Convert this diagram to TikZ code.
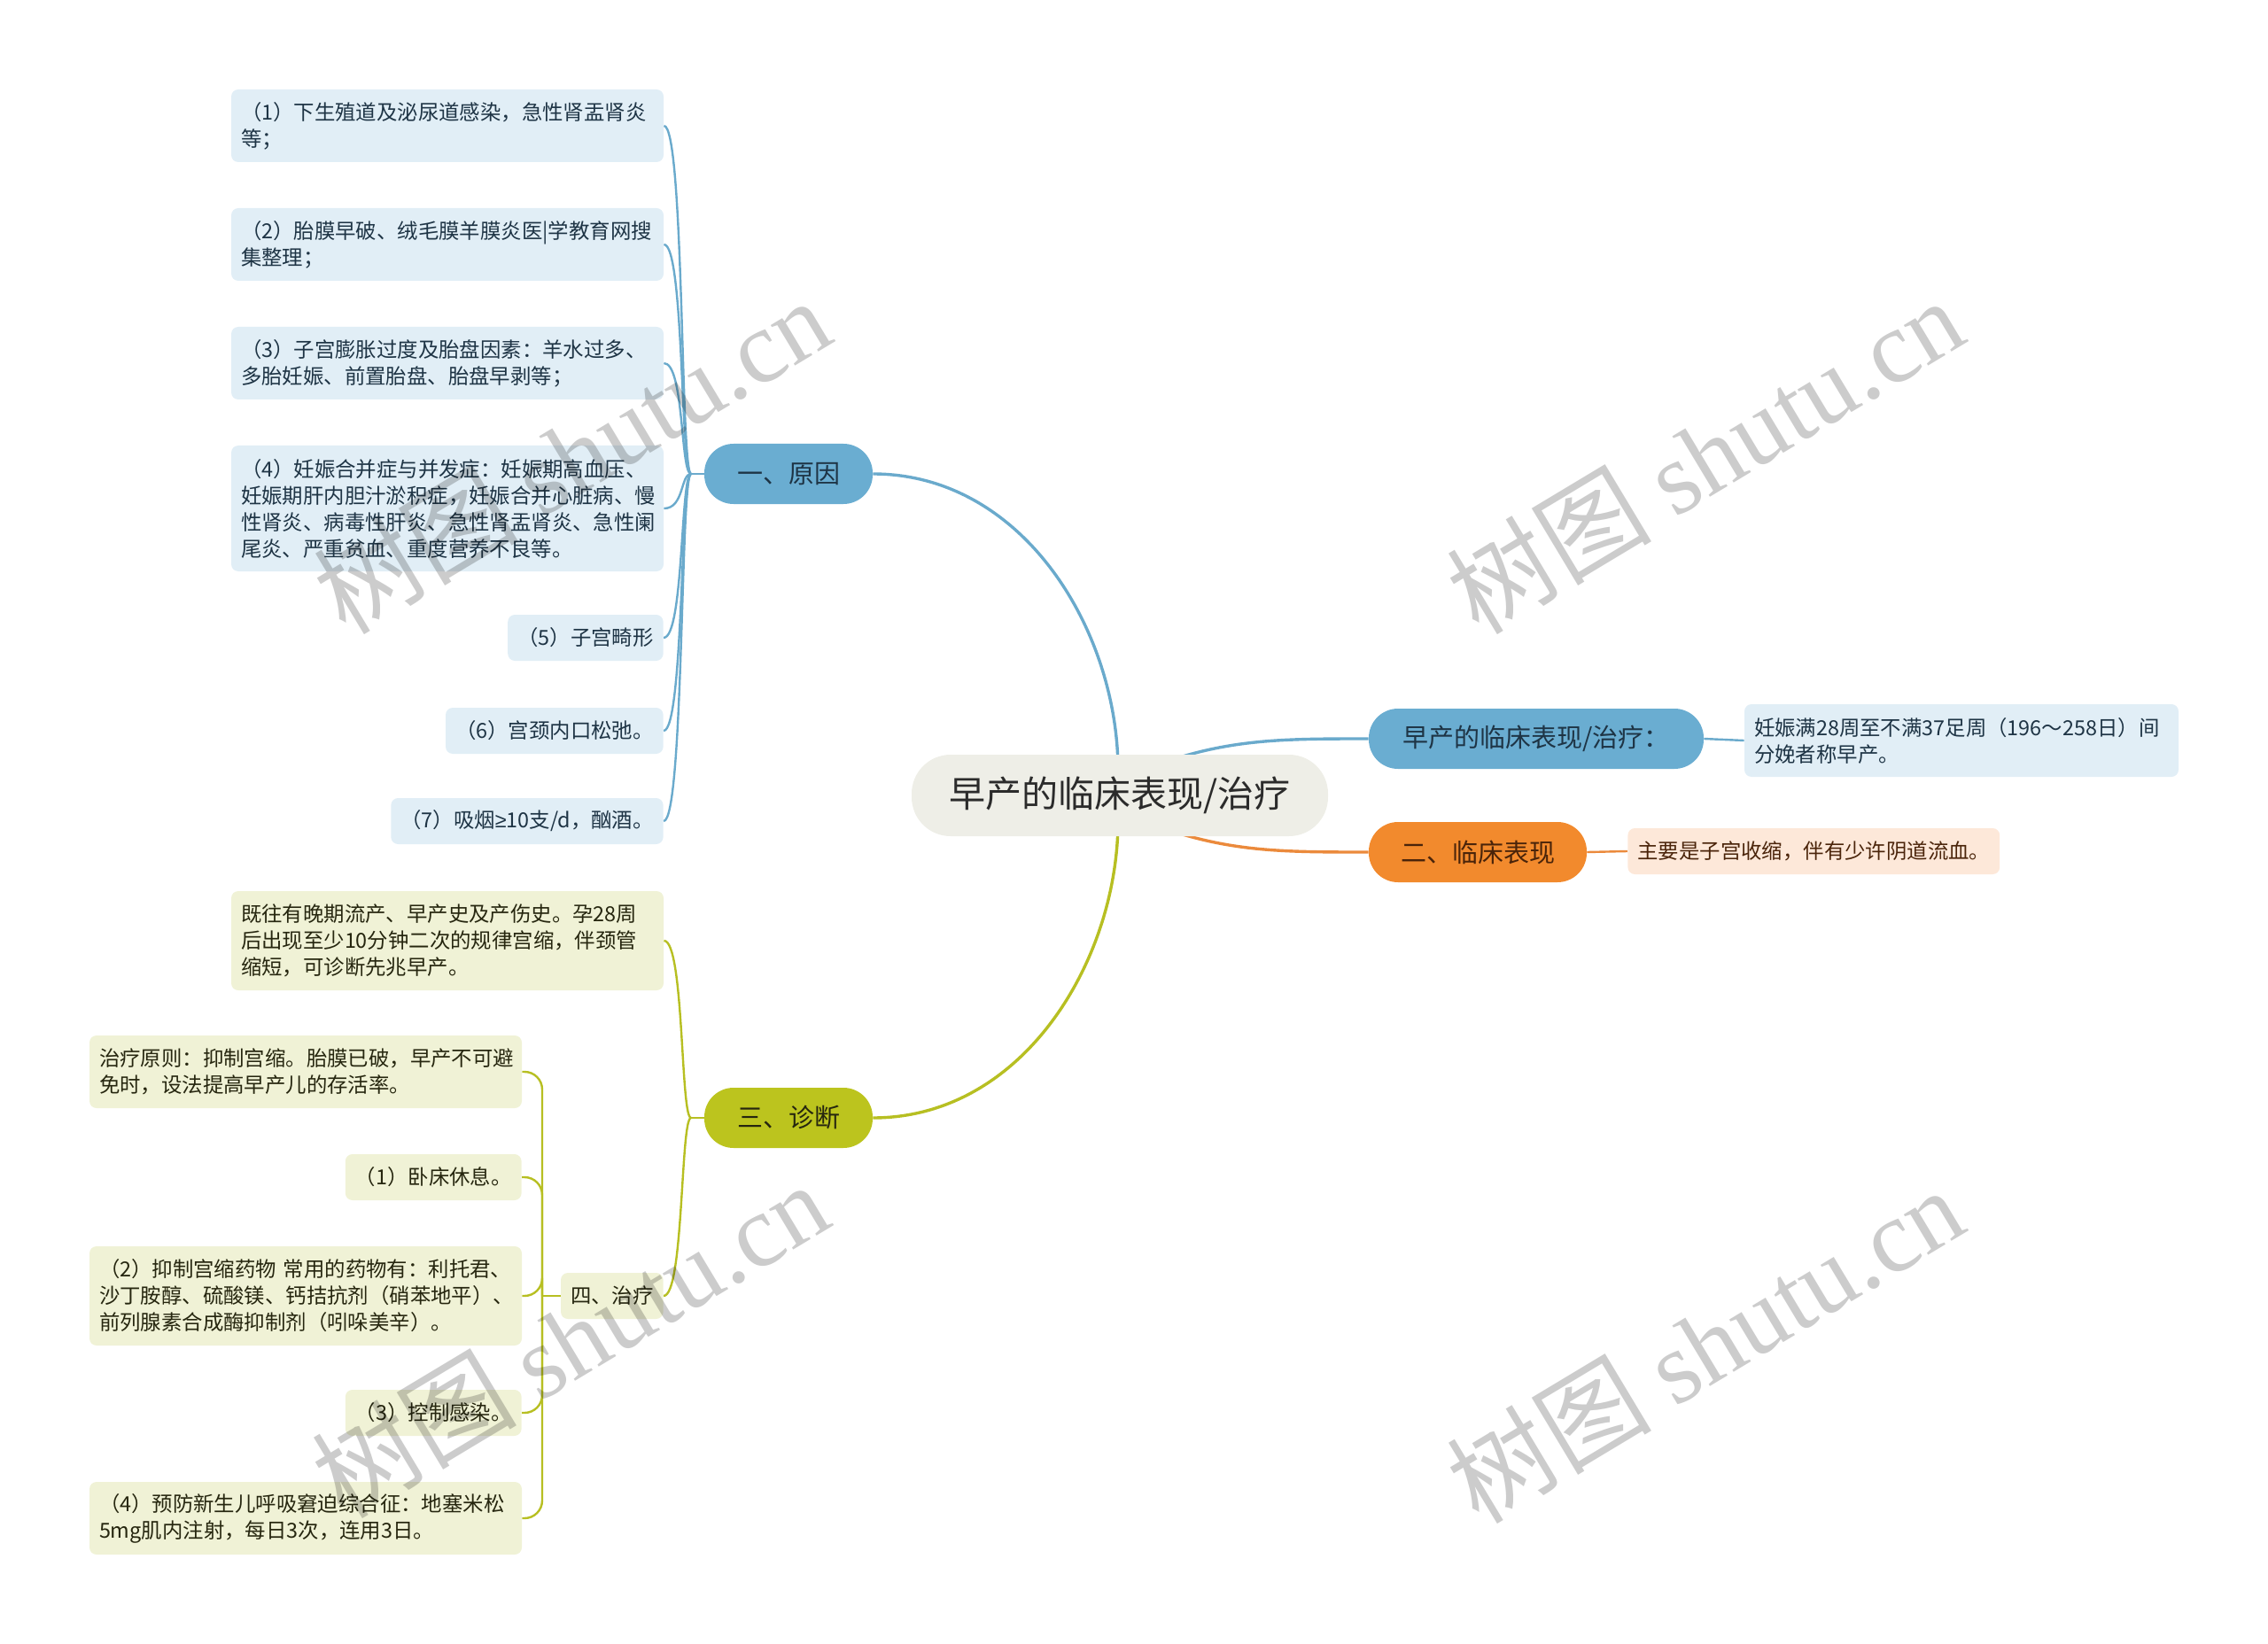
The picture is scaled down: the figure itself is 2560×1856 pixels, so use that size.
\documentclass[tikz,border=0pt]{standalone}
\usepackage{fontspec}
\setmainfont{Noto Sans CJK SC}
\newfontfamily\wmserif{Liberation Serif}
\newfontfamily\symfont{Liberation Sans}
\usetikzlibrary{backgrounds}
\definecolor{bluemain}{HTML}{6AADD1}
\definecolor{bluelf}{HTML}{E1EEF6}
\definecolor{bluetx}{HTML}{1E3445}
\definecolor{blueln}{HTML}{6AAACC}
\definecolor{orgmain}{HTML}{F28A2D}
\definecolor{orglf}{HTML}{FDE8D9}
\definecolor{orgtx}{HTML}{4A240A}
\definecolor{orgln}{HTML}{EB8A3C}
\definecolor{olvmain}{HTML}{BCC41E}
\definecolor{olvlf}{HTML}{F0F2D6}
\definecolor{olvtx}{HTML}{26260F}
\definecolor{olvln}{HTML}{B7BF22}
\definecolor{rootfill}{HTML}{EEEEE7}
\definecolor{roottx}{HTML}{2B2B2B}
\tikzset{
  rootnode/.style={fill=rootfill, text=roottx, rounded corners=22pt, minimum width=235pt,
    minimum height=46pt, inner sep=0pt, font=\fontsize{20.5}{24}\selectfont},
  mainnode/.style={rounded corners=16.5pt, minimum height=34pt, inner sep=0pt,
    font=\fontsize{14.5}{18}\selectfont},
  leaf/.style={rounded corners=4pt, inner xsep=5.5pt, inner ysep=2pt,
    font=\fontsize{11.7}{15}\selectfont, align=left},
  leafb/.style={leaf, fill=bluelf, text=bluetx},
  leafo/.style={leaf, fill=olvlf, text=olvtx},
  leafp/.style={leaf, fill=orglf, text=orgtx},
  wide/.style={text width=233pt},
  mainconn/.style={line width=1.7pt},
  subconn/.style={line width=1.2pt},
  wm/.style={text=black, opacity=0.2, font=\fontsize{58}{66}\selectfont, inner sep=0pt}
}
\begin{document}
\begin{tikzpicture}[x=0.5pt, y=-0.5pt]
\useasboundingbox (0,0) rectangle (2560,1856);

% root and main branches
\node[rootnode] (root) at (1264,898) {早产的临床表现/治疗};
\node[mainnode, fill=bluemain, text=bluetx, minimum width=95pt] (yuan) at (890,535) {一、原因};
\node[mainnode, fill=bluemain, text=bluetx, minimum width=189pt] (defn) at (1734,834) {早产的临床表现/治疗：};
\node[mainnode, fill=orgmain, text=orgtx, minimum width=123pt] (linc) at (1668,962) {二、临床表现};
\node[mainnode, fill=olvmain, text=olvtx, minimum width=95pt] (zhen) at (890,1262) {三、诊断};

% blue leaves
\node[leafb, wide, minimum height=41pt] (b1) at (505,142) {（1）下生殖道及泌尿道感染，急性肾盂肾炎\\等；};
\node[leafb, wide, minimum height=41pt] (b2) at (505,276) {（2）胎膜早破、绒毛膜羊膜炎医|学教育网搜\\集整理；};
\node[leafb, wide, minimum height=41pt] (b3) at (505,410) {（3）子宫膨胀过度及胎盘因素：羊水过多、\\多胎妊娠、前置胎盘、胎盘早剥等；};
\node[leafb, wide, minimum height=71pt] (b4) at (505,574) {（4）妊娠合并症与并发症：妊娠期高血压、\\妊娠期肝内胆汁淤积症，妊娠合并心脏病、慢\\性肾炎、病毒性肝炎、急性肾盂肾炎、急性阑\\尾炎、严重贫血、重度营养不良等。};
\node[leafb, minimum height=26pt, anchor=east] (b5) at (749,720) {（5）子宫畸形};
\node[leafb, minimum height=26pt, anchor=east] (b6) at (749,825) {（6）宫颈内口松弛。};
\node[leafb, minimum height=26pt, anchor=east] (b7) at (749,927) {（7）吸烟{\symfont ≥}10支/d，酗酒。};

% right leaves
\node[leafb, text width=234pt, minimum height=41pt] (defl) at (2214,836) {妊娠满28周至不满37足周（196～258日）间\\分娩者称早产。};
\node[leafp, minimum height=26pt, anchor=west] (lincl) at (1837,961) {主要是子宫收缩，伴有少许阴道流血。};

% olive leaves
\node[leafo, wide, minimum height=56pt] (jw) at (505,1062) {既往有晚期流产、早产史及产伤史。孕28周\\后出现至少10分钟二次的规律宫缩，伴颈管\\缩短，可诊断先兆早产。};
\node[leafo, minimum height=26pt, anchor=east] (zl) at (749,1463) {四、治疗};
\node[leafo, wide, minimum height=41pt] (t0) at (345,1210) {治疗原则：抑制宫缩。胎膜已破，早产不可避\\免时，设法提高早产儿的存活率。};
\node[leafo, minimum height=26pt, anchor=east] (t1) at (589,1329) {（1）卧床休息。};
\node[leafo, wide, minimum height=56pt] (t2) at (345,1463) {（2）抑制宫缩药物~常用的药物有：利托君、\\沙丁胺醇、硫酸镁、钙拮抗剂（硝苯地平）、\\前列腺素合成酶抑制剂（吲哚美辛）。};
\node[leafo, minimum height=26pt, anchor=east] (t3) at (589,1595) {（3）控制感染。};
\node[leafo, wide, minimum height=41pt] (t4) at (345,1714) {（4）预防新生儿呼吸窘迫综合征：地塞米松\\5mg肌内注射，每日3次，连用3日。};

% junction coordinates
\coordinate (rtop) at (1262,870);
\coordinate (rbot) at (1262,926);
\coordinate (rne) at (1310,862);
\coordinate (rse) at (1310,934);
\coordinate (jb) at (780,535);
\coordinate (jo) at (780,1262);
\coordinate (jt) at (612,1463);

\begin{pgfonlayer}{background}
\draw[blueln, mainconn] (yuan.east) .. controls (1155,535) and (1262,712) .. (rtop);
\draw[olvln, mainconn] (zhen.east) .. controls (1155,1262) and (1262,1084) .. (rbot);
\draw[blueln, mainconn] (rne) .. controls (1390,834) and (1450,834) .. (defn.west);
\draw[orgln, mainconn] (rse) .. controls (1390,962) and (1450,962) .. (linc.west);
\draw[blueln, subconn] (defn.east) -- (defl.west);
\draw[orgln, subconn] (linc.east) -- (lincl.west);
\draw[blueln, subconn] (jb) -- (yuan.west);
\foreach \c in {b1,b2,b3,b4,b5,b6,b7}
  \draw[blueln, subconn] (\c.east) .. controls +(23,0) and +(-12,0) .. (jb);
\draw[olvln, subconn] (jo) -- (zhen.west);
\foreach \c in {jw,zl}
  \draw[olvln, subconn] (\c.east) .. controls +(23,0) and +(-12,0) .. (jo);
\draw[olvln, subconn] (jt) -- (zl.west);
\foreach \c in {t0,t1,t2,t3,t4}
  \draw[olvln, subconn, rounded corners=10] (\c.east) -- (\c.east -| jt) -- (jt);
\end{pgfonlayer}

% watermarks
\node[wm, rotate=31] (wm1) at (645,514) {树图 {\wmserif shutu.cn}};
\node[wm, rotate=31] (wm2) at (1924,514) {树图 {\wmserif shutu.cn}};
\node[wm, rotate=31] (wm3) at (643,1512) {树图 {\wmserif shutu.cn}};
\node[wm, rotate=31] (wm4) at (1924,1518) {树图 {\wmserif shutu.cn}};
\end{tikzpicture}
\end{document}
